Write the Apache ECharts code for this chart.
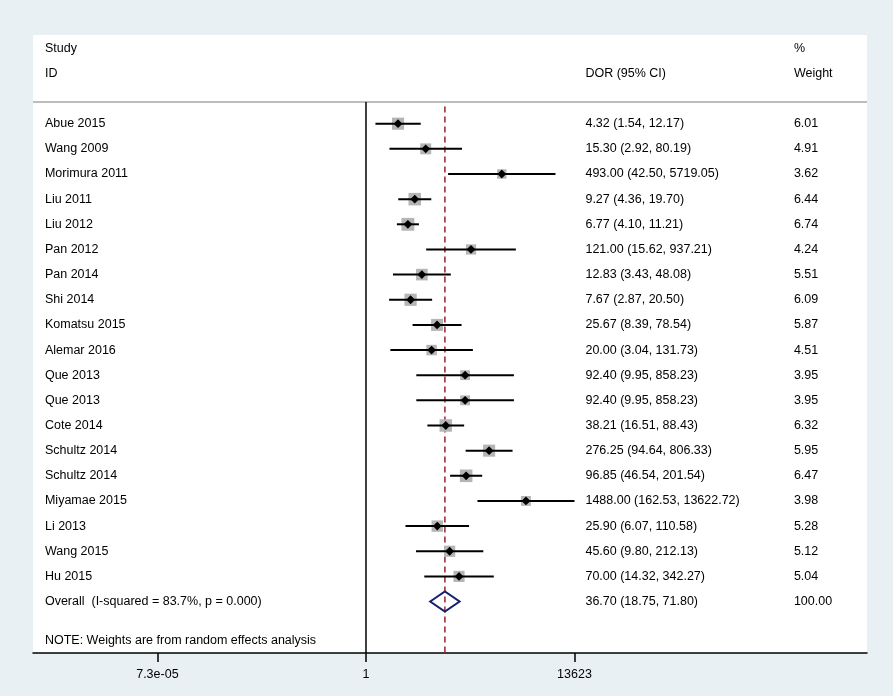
<!DOCTYPE html>
<html>
<head>
<meta charset="utf-8">
<script src="https://cdn.jsdelivr.net/npm/echarts@6/dist/echarts.min.js"></script>
<style>
  html, body { margin: 0; padding: 0; background: #e9f0f3; }
  #chart { width: 893px; height: 696px; }
</style>
</head>
<body>
<div id="chart"></div>
<script>
// ---------- data ----------
const studies = ['Abue 2015','Wang 2009','Morimura 2011','Liu 2011','Liu 2012','Pan 2012','Pan 2014','Shi 2014','Komatsu 2015','Alemar 2016','Que 2013','Que 2013','Cote 2014','Schultz 2014','Schultz 2014','Miyamae 2015','Li 2013','Wang 2015','Hu 2015'];
const dor    = [4.32, 15.30, 493.00, 9.27, 6.77, 121.00, 12.83, 7.67, 25.67, 20.00, 92.40, 92.40, 38.21, 276.25, 96.85, 1488.00, 25.90, 45.60, 70.00];
const ciLow  = [1.54, 2.92, 42.50, 4.36, 4.10, 15.62, 3.43, 2.87, 8.39, 3.04, 9.95, 9.95, 16.51, 94.64, 46.54, 162.53, 6.07, 9.80, 14.32];
const ciHigh = [12.17, 80.19, 5719.05, 19.70, 11.21, 937.21, 48.08, 20.50, 78.54, 131.73, 858.23, 858.23, 88.43, 806.33, 201.54, 13622.72, 110.58, 212.13, 342.27];
const weights = [6.01, 4.91, 3.62, 6.44, 6.74, 4.24, 5.51, 6.09, 5.87, 4.51, 3.95, 3.95, 6.32, 5.95, 6.47, 3.98, 5.28, 5.12, 5.04];
const overallDor = 36.70;
const overallLow = 18.75;
const overallHigh = 71.80;
const overallWeight = 100.00;
const overallLabel = 'Overall  (I-squared = 83.7%, p = 0.000)';
const noteText = 'NOTE: Weights are from random effects analysis';
const headerLeft = ['Study', 'ID'];
const headerMid = 'DOR (95% CI)';
const headerRight = ['%', 'Weight'];
const tickValues = [7.3e-05, 1, 13623];
const tickLabels = ['7.3e-05', '1', '13623'];

// ---------- layout (not data) ----------
const XMIN = -15.205, XMAX = 22.877;        // ln scale range of the panel
const YMIN = -2.527, YMAX = 22.046;         // row scale range of the panel
const COL_STUDY = -14.66, COL_DOR = 10.02, COL_W = 19.54;
const SEP_ROW = 0.137, NOTE_ROW = 21.55;
const FONT = '12.5px "Liberation Sans", Arial, sans-serif';

const ln = Math.log;
const fmt = v => v.toFixed(2);

// study marks
const studyData = studies.map((s, i) => [ln(dor[i]), i + 1, ln(ciLow[i]), ln(ciHigh[i]), weights[i]]);
const overallRow = studies.length + 1;

// text items
const texts = [], textPos = [];
function addText(t, x, row) { texts.push(t); textPos.push([x, row]); }
addText(headerLeft[0], COL_STUDY, -2);
addText(headerLeft[1], COL_STUDY, -1);
addText(headerMid, COL_DOR, -1);
addText(headerRight[0], COL_W, -2);
addText(headerRight[1], COL_W, -1);
studies.forEach((s, i) => {
  addText(s, COL_STUDY, i + 1);
  addText(fmt(dor[i]) + ' (' + fmt(ciLow[i]) + ', ' + fmt(ciHigh[i]) + ')', COL_DOR, i + 1);
  addText(fmt(weights[i]), COL_W, i + 1);
});
addText(overallLabel, COL_STUDY, overallRow);
addText(fmt(overallDor) + ' (' + fmt(overallLow) + ', ' + fmt(overallHigh) + ')', COL_DOR, overallRow);
addText(fmt(overallWeight), COL_W, overallRow);
addText(noteText, COL_STUDY, NOTE_ROW);

const tickLn = tickValues.map(v => ln(v));

const chart = echarts.init(document.getElementById('chart'), null, { renderer: 'canvas' });
chart.setOption({
  backgroundColor: '#e9f0f3',
  animation: false,
  grid: { left: 33, right: 26, top: 35, bottom: 43, show: true, backgroundColor: '#ffffff', borderWidth: 0 },
  xAxis: {
    type: 'value', min: XMIN, max: XMAX,
    axisLine: { show: true, onZero: false, lineStyle: { color: '#000', width: 1.5 } },
    axisTick: { show: true, length: 9, customValues: tickLn, lineStyle: { color: '#000', width: 1.5 } },
    axisLabel: {
      customValues: tickLn, margin: 15, color: '#000', fontSize: 12.5, fontFamily: '"Liberation Sans", Arial, sans-serif',
      formatter: function (v) {
        let best = 0;
        tickLn.forEach((t, i) => { if (Math.abs(t - v) < Math.abs(tickLn[best] - v)) best = i; });
        return tickLabels[best];
      }
    },
    splitLine: { show: false }
  },
  yAxis: { type: 'value', inverse: true, min: YMIN, max: YMAX, show: false },
  series: [
    {
      type: 'custom', name: 'guides', silent: true, z: 1,
      data: [[0, 0]],
      renderItem: function (params, api) {
        const sepL = api.coord([XMIN, SEP_ROW]), sepR = api.coord([XMAX, SEP_ROW]);
        const vTop = api.coord([0, SEP_ROW]), vBot = api.coord([0, YMAX]);
        const dTop = api.coord([ln(overallDor), SEP_ROW + 0.1]), dBot = api.coord([ln(overallDor), YMAX]);
        return {
          type: 'group', children: [
            { type: 'line', shape: { x1: sepL[0], y1: sepL[1], x2: sepR[0], y2: sepR[1] }, style: { stroke: '#bdbdbd', lineWidth: 2 } },
            { type: 'line', shape: { x1: vTop[0], y1: vTop[1], x2: vBot[0], y2: vBot[1] }, style: { stroke: '#000', lineWidth: 1.5 } },
            { type: 'line', shape: { x1: dTop[0], y1: dTop[1] + 2, x2: dBot[0], y2: dBot[1] }, style: { stroke: '#a22f3a', lineWidth: 1.6, lineDash: [6, 4] } }
          ]
        };
      }
    },
    {
      type: 'custom', name: 'studies', silent: true, z: 3,
      data: studyData,
      renderItem: function (params, api) {
        const c = api.coord([api.value(0), api.value(1)]);
        const lo = api.coord([api.value(2), api.value(1)]);
        const hi = api.coord([api.value(3), api.value(1)]);
        const side = 4.95 * Math.sqrt(api.value(4));
        const hw = 4.4, hh = 4.4;
        return {
          type: 'group', children: [
            { type: 'rect', shape: { x: c[0] - side / 2, y: c[1] - side / 2, width: side, height: side }, style: { fill: '#b5b5b5' } },
            { type: 'line', shape: { x1: lo[0], y1: lo[1], x2: hi[0], y2: hi[1] }, style: { stroke: '#000', lineWidth: 2 } },
            { type: 'polygon', shape: { points: [[c[0] - hw, c[1]], [c[0], c[1] - hh], [c[0] + hw, c[1]], [c[0], c[1] + hh]] }, style: { fill: '#000' } }
          ]
        };
      }
    },
    {
      type: 'custom', name: 'overall', silent: true, z: 3,
      data: [[ln(overallDor), overallRow, ln(overallLow), ln(overallHigh)]],
      renderItem: function (params, api) {
        const c = api.coord([api.value(0), api.value(1)]);
        const lo = api.coord([api.value(2), api.value(1)]);
        const hi = api.coord([api.value(3), api.value(1)]);
        const hh = 10;
        return {
          type: 'polygon',
          shape: { points: [[lo[0], c[1]], [c[0], c[1] - hh], [hi[0], c[1]], [c[0], c[1] + hh]] },
          style: { fill: 'none', stroke: '#15206e', lineWidth: 2, lineJoin: 'miter' }
        };
      }
    },
    {
      type: 'custom', name: 'texts', silent: true, z: 4,
      data: textPos,
      renderItem: function (params, api) {
        const p = api.coord([api.value(0), api.value(1)]);
        return {
          type: 'text', x: p[0], y: p[1],
          style: { text: texts[params.dataIndex], fill: '#000', font: FONT, align: 'left', verticalAlign: 'middle' }
        };
      }
    }
  ]
});
</script>
</body>
</html>
